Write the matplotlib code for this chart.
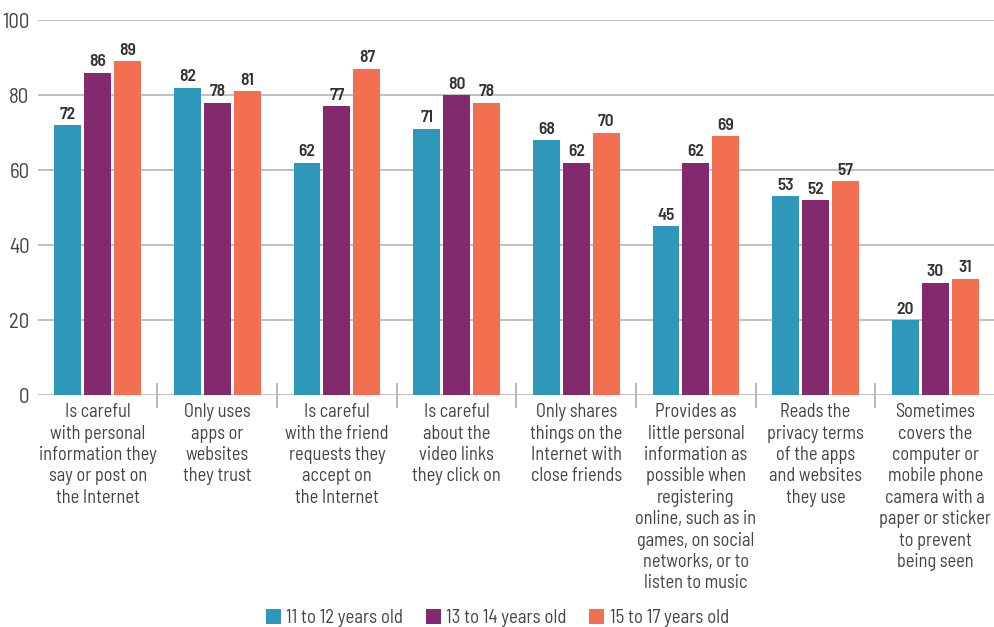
import matplotlib
matplotlib.use("Agg")
import matplotlib.pyplot as plt
import numpy as np

plt.rcParams['font.family'] = ["Barlow Semi Condensed", "Roboto Condensed", "DejaVu Sans"]

categories = [
    "Is careful\nwith personal\ninformation they\nsay or post on\nthe Internet",
    "Only uses\napps or\nwebsites\nthey trust",
    "Is careful\nwith the friend\nrequests they\naccept on\nthe Internet",
    "Is careful\nabout the\nvideo links\nthey click on",
    "Only shares\nthings on the\nInternet with\nclose friends",
    "Provides as\nlittle personal\ninformation as\npossible when\nregistering\nonline, such as in\ngames, on social\nnetworks, or to\nlisten to music",
    "Reads the\nprivacy terms\nof the apps\nand websites\nthey use",
    "Sometimes\ncovers the\ncomputer or\nmobile phone\ncamera with a\npaper or sticker\nto prevent\nbeing seen",
]
series_names = ["11 to 12 years old", "13 to 14 years old", "15 to 17 years old"]
age_11_12 = [72, 82, 62, 71, 68, 45, 53, 20]
age_13_14 = [86, 78, 77, 80, 62, 62, 52, 30]
age_15_17 = [89, 81, 87, 78, 70, 69, 57, 31]
yticks = [0, 20, 40, 60, 80, 100]

colors = ["#2E97BA", "#832A6E", "#F26F51"]

fig = plt.figure(figsize=(9.95, 6.27), dpi=100)
ax = fig.add_axes([0.038, 0.37, 0.962, 0.598])

x = np.arange(len(categories))
w = 0.225
step = 0.25
for k, (vals, c, name) in enumerate(zip([age_11_12, age_13_14, age_15_17], colors, series_names)):
    pos = x + (k - 1) * step
    ax.bar(pos, vals, width=w, color=c, label=name, zorder=3)
    for p, v in zip(pos, vals):
        ax.annotate(str(v), (p, v), xytext=(0, 2.5), textcoords="offset points",
                    ha="center", va="bottom", fontsize=12.5, color="#333333", fontweight="semibold")

ax.set_xlim(-0.5, len(categories) - 0.5)
ax.set_ylim(0, 100)
ax.set_yticks(yticks)
ax.set_yticklabels([str(t) for t in yticks], fontsize=15, color="#444444")
ax.yaxis.grid(True, color="#BBBBBB", linewidth=1.3, zorder=0)
ax.set_axisbelow(True)
for s in ax.spines.values():
    s.set_visible(False)
ax.tick_params(axis="y", length=0, pad=6)

ax.set_xticks(x)
ax.set_xticklabels(categories, fontsize=13.2, color="#444444", linespacing=1.24, va="top")
ax.set_xticks(np.arange(0.5, len(categories) - 1, 1), minor=True)
ax.tick_params(axis="x", which="major", length=0, pad=6)
ax.tick_params(axis="x", which="minor", direction="inout", length=18, width=1.2, color="#AAAAAA")

fig.legend(loc="lower center", bbox_to_anchor=(0.5, -0.027), ncol=3, frameon=False,
           fontsize=13.5, handlelength=0.8, handleheight=0.8, handletextpad=0.3,
           columnspacing=1.2, labelcolor="#444444")

fig.savefig("out.png", dpi=100)
